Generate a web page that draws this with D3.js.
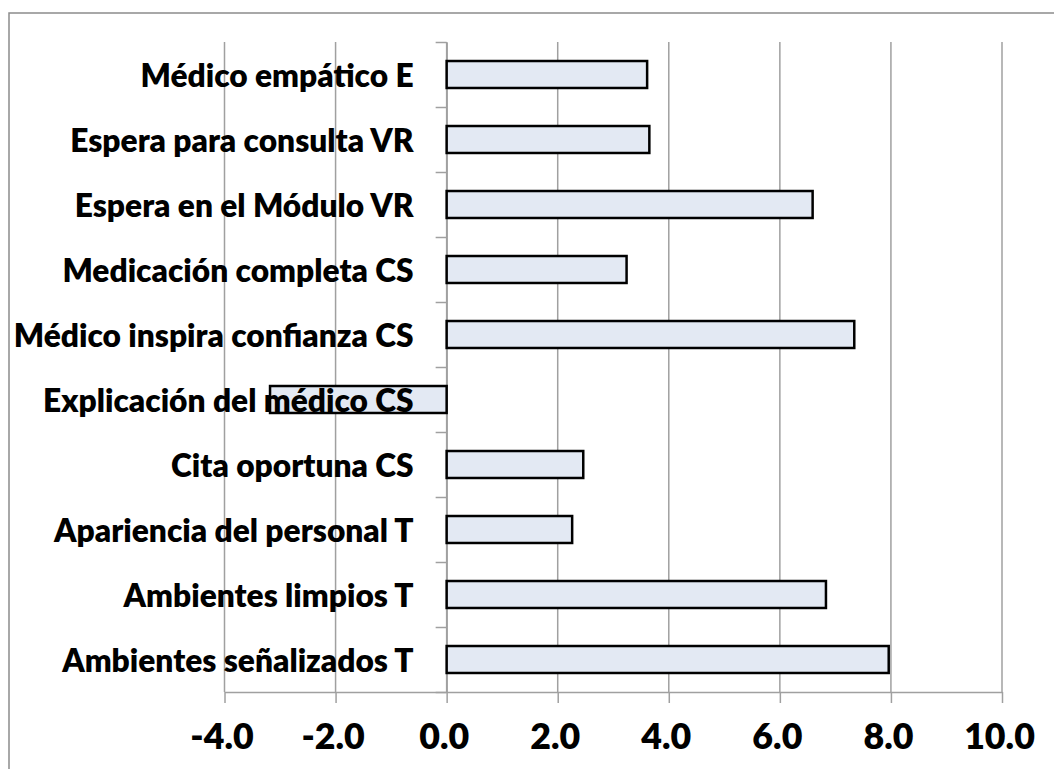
<!DOCTYPE html>
<html>
<head>
<meta charset="utf-8">
<script src="https://cdn.jsdelivr.net/npm/d3@7"></script>
<style>
  body { margin: 0; background: #fff; }
  svg { display: block; }
</style>
</head>
<body>
<div id="chart"></div>
<script>
// Categories, listed top to bottom as they appear in the chart
const categories = [
  'Médico empático E',
  'Espera para consulta VR',
  'Espera en el Módulo VR',
  'Medicación completa CS',
  'Médico inspira confianza CS',
  'Explicación del médico CS',
  'Cita oportuna CS',
  'Apariencia del personal T',
  'Ambientes limpios T',
  'Ambientes señalizados T'
];
const values = [3.61, 3.65, 6.59, 3.24, 7.34, -3.18, 2.46, 2.26, 6.83, 7.96];
const xTicks = [-4, -2, 0, 2, 4, 6, 8, 10];

const W = 1054, H = 769;
const plot = { left: 224.5, right: 1002, top: 42, bottom: 692 };
const fontFamily = 'Lato, "Open Sans", "DejaVu Sans", sans-serif';
const fontWeight = 800;

const svg = d3.select( '#chart' )
  .append( 'svg' )
    .attr( 'width', W )
    .attr( 'height', H );

// Outer chart border (cut off at the right and bottom edges)
svg.append( 'rect' )
    .attr( 'x', 9 ).attr( 'y', 13 )
    .attr( 'width', W + 20 ).attr( 'height', H + 20 )
    .attr( 'fill', 'none' )
    .attr( 'stroke', '#8c8c8c' )
    .attr( 'stroke-width', 1.5 );

// Scales
const x = d3.scaleLinear()
    .domain( [-4, 10] )
    .range( [plot.left, plot.right] );

const y = d3.scaleBand()
    .domain( categories )
    .range( [plot.top, plot.bottom] )
    .paddingInner( 0.585 )
    .paddingOuter( 0.2925 );

// helper: fit a font size so a string gets a given width
function fitSize( text, targetWidth ) {
  const t = svg.append( 'text' )
      .style( 'font-family', fontFamily )
      .style( 'font-weight', fontWeight )
      .style( 'font-size', '100px' )
      .text( text );
  const w = t.node().getComputedTextLength();
  t.remove();
  return 100 * targetWidth / w;
}
const labelSize = fitSize( 'Médico inspira confianza CS', 400 );
const tickSize = fitSize( '0.0', 50 );

// Vertical gridlines
svg.append( 'g' )
  .selectAll( 'line' )
  .data( xTicks )
  .enter()
  .append( 'line' )
    .attr( 'x1', d => x( d ) ).attr( 'x2', d => x( d ) )
    .attr( 'y1', plot.top ).attr( 'y2', plot.bottom )
    .attr( 'stroke', '#a0a0a0' )
    .attr( 'stroke-width', 1.5 );

// X axis
const xAxis = svg.append( 'g' )
    .attr( 'transform', 'translate(0,' + plot.bottom + ')' )
    .call( d3.axisBottom( x )
      .tickValues( xTicks )
      .tickSize( 11 )
      .tickSizeOuter( 0 )
      .tickFormat( d => d.toFixed( 1 ) ) );
xAxis.select( '.domain' ).attr( 'stroke', '#a0a0a0' ).attr( 'stroke-width', 1.5 );
xAxis.selectAll( '.tick line' ).attr( 'stroke', '#a0a0a0' ).attr( 'stroke-width', 1.5 );
xAxis.selectAll( '.tick text' )
    .attr( 'y', 57 )
    .attr( 'dy', 0 )
    .attr( 'dx', -3 )
    .style( 'font-family', fontFamily )
    .style( 'font-weight', fontWeight )
    .style( 'font-size', tickSize + 'px' )
    .attr( 'fill', '#000' );

// Y axis: ticks sit on the category boundaries, so use a linear helper scale
const yEdge = d3.scaleLinear()
    .domain( [0, categories.length] )
    .range( [plot.bottom, plot.top] );
const yAxis = svg.append( 'g' )
    .attr( 'transform', 'translate(' + x( 0 ) + ',0)' )
    .call( d3.axisLeft( yEdge )
      .tickValues( d3.range( 0, categories.length + 1 ) )
      .tickSize( 11 )
      .tickSizeOuter( 0 )
      .tickFormat( '' ) );
yAxis.select( '.domain' ).attr( 'stroke', '#a0a0a0' ).attr( 'stroke-width', 1.5 );
yAxis.selectAll( '.tick line' ).attr( 'stroke', '#a0a0a0' ).attr( 'stroke-width', 1.5 );

// Bars
svg.append( 'g' )
  .selectAll( 'rect' )
  .data( values )
  .enter()
  .append( 'rect' )
    .attr( 'x', d => x( Math.min( 0, d ) ) )
    .attr( 'y', ( d, i ) => y( categories[i] ) )
    .attr( 'width', d => Math.abs( x( d ) - x( 0 ) ) )
    .attr( 'height', y.bandwidth() )
    .attr( 'fill', '#e3e9f3' )
    .attr( 'stroke', '#000' )
    .attr( 'stroke-width', 2.5 );

// Category labels (drawn on top, as in the original)
svg.append( 'g' )
  .selectAll( 'text' )
  .data( categories )
  .enter()
  .append( 'text' )
    .attr( 'x', x( 0 ) - 33 )
    .attr( 'y', d => y( d ) + y.bandwidth() / 2 )
    .attr( 'text-anchor', 'end' )
    .attr( 'dominant-baseline', 'central' )
    .style( 'font-family', fontFamily )
    .style( 'font-weight', fontWeight )
    .style( 'font-size', labelSize + 'px' )
    .attr( 'fill', '#000' )
    .text( d => d );
</script>
</body>
</html>
